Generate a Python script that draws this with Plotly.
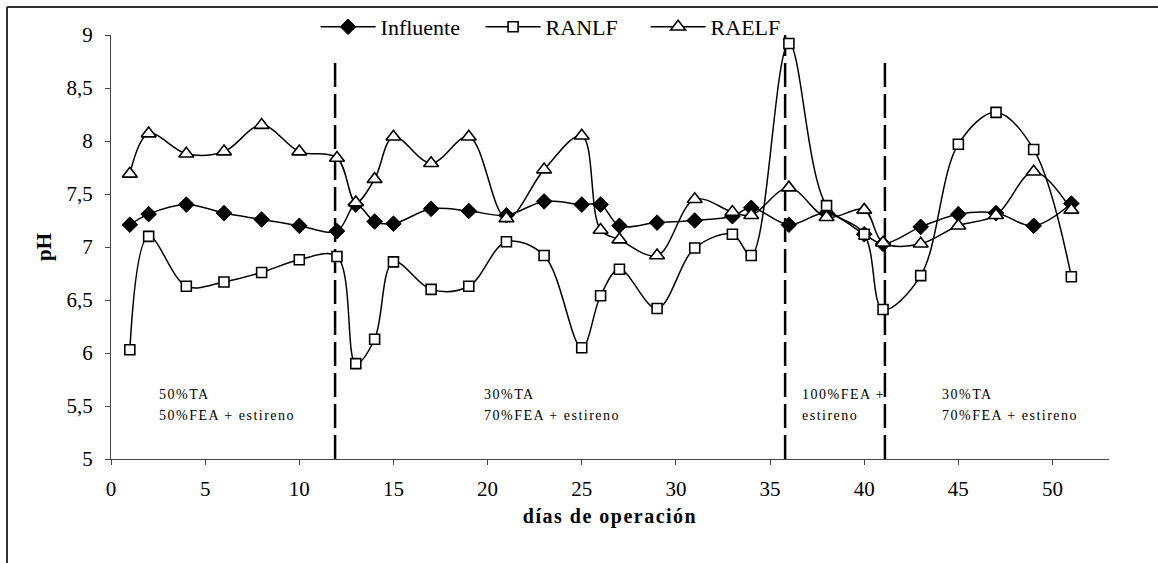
import plotly.graph_objects as go

# Sampling days (shared by the three series)
days = [1, 2, 4, 6, 8, 10, 12, 13, 14, 15, 17, 19, 21, 23, 25, 26, 27, 29,
        31, 33, 34, 36, 38, 40, 41, 43, 45, 47, 49, 51]

ph_influente = [7.21, 7.31, 7.40, 7.32, 7.26, 7.20, 7.15, 7.40, 7.24, 7.22,
                7.36, 7.34, 7.30, 7.43, 7.40, 7.40, 7.20, 7.23, 7.25, 7.29,
                7.37, 7.21, 7.32, 7.12, 7.03, 7.19, 7.31, 7.32, 7.20, 7.41]
ph_ranlf = [6.03, 7.10, 6.63, 6.67, 6.76, 6.88, 6.91, 5.90, 6.13, 6.86,
            6.60, 6.63, 7.05, 6.92, 6.05, 6.54, 6.79, 6.42, 6.99, 7.12,
            6.92, 8.92, 7.39, 7.12, 6.41, 6.73, 7.97, 8.27, 7.92, 6.72]
ph_raelf = [7.69, 8.07, 7.88, 7.90, 8.15, 7.90, 7.84, 7.42, 7.64, 8.04,
            7.79, 8.04, 7.27, 7.73, 8.05, 7.16, 7.07, 6.92, 7.45, 7.33,
            7.30, 7.56, 7.28, 7.35, 7.04, 7.03, 7.20, 7.30, 7.71, 7.35]

# Feed-change boundaries (day) and the height each dashed line reaches
phase_days = [11.9, 35.8, 41.1]
phase_tops = [8.80, 9.02, 8.80]

# Feed composition labels for each period
phase_label_x = [2.46, 2.46, 19.69, 19.69, 36.59, 36.59, 44.02, 44.02]
phase_label_y = [5.61, 5.41, 5.61, 5.41, 5.61, 5.41, 5.61, 5.41]
phase_label_text = ["50%TA", "50%FEA + estireno",
                    "30%TA", "70%FEA + estireno",
                    "100%FEA +", "estireno",
                    "30%TA", "70%FEA + estireno"]

x_ticks = [0, 5, 10, 15, 20, 25, 30, 35, 40, 45, 50]
y_ticks = [5, 5.5, 6, 6.5, 7, 7.5, 8, 8.5, 9]

SERIF = "Liberation Serif, Times New Roman, serif"
W, H = 1158, 563
ML, MR, MT, MB = 111, 49, 35, 104

fig = go.Figure()

line_style = dict(color="black", width=1.5, shape="spline", smoothing=1)

fig.add_trace(go.Scatter(
    x=days, y=ph_influente, name="Influente", mode="lines+markers",
    line=line_style,
    marker=dict(symbol="diamond", size=12, color="black",
                line=dict(color="black", width=1)),
))
fig.add_trace(go.Scatter(
    x=days, y=ph_ranlf, name="RANLF", mode="lines+markers",
    line=line_style,
    marker=dict(symbol="square", size=10, color="white",
                line=dict(color="black", width=1.6)),
))
fig.add_trace(go.Scatter(
    x=days, y=ph_raelf, name="RAELF", mode="lines+markers",
    line=line_style,
    marker=dict(symbol="triangle-up", size=13, color="white",
                line=dict(color="black", width=1.6)),
))

# Dashed separators between feeding periods
for d, top in zip(phase_days, phase_tops):
    fig.add_shape(type="line", xref="x", yref="y", x0=d, x1=d, y0=5, y1=top,
                  line=dict(color="black", width=2.5, dash="24px,7px"),
                  layer="below")

spaced = '<span style="letter-spacing:1.5px">{}</span>'
for tx, ty, txt in zip(phase_label_x, phase_label_y, phase_label_text):
    fig.add_annotation(x=tx, y=ty, xref="x", yref="y", text=spaced.format(txt),
                       showarrow=False, xanchor="left", yanchor="middle",
                       font=dict(family=SERIF, size=14, color="black"))

# Partial outer frame (top and left edges)
pw = W - ML - MR
ph = H - MT - MB
fx = (7 - ML) / pw
fy = 1 + (MT - 7) / ph
fig.add_shape(type="line", xref="paper", yref="paper",
              x0=fx, x1=(W - ML) / pw, y0=fy, y1=fy,
              line=dict(color="#333333", width=2))
fig.add_shape(type="line", xref="paper", yref="paper",
              x0=fx, x1=fx, y0=fy, y1=-MB / ph,
              line=dict(color="#333333", width=2))

fig.update_layout(
    width=W, height=H,
    margin=dict(l=ML, r=MR, t=MT, b=MB, pad=0, autoexpand=False),
    paper_bgcolor="white", plot_bgcolor="white",
    separators=",.",
    font=dict(family=SERIF, color="black"),
    showlegend=True,
    legend=dict(orientation="h", x=0.205, y=1 + (MT - 27) / ph, xanchor="left",
                yanchor="middle", bgcolor="rgba(0,0,0,0)",
                font=dict(family=SERIF, size=22, color="black"),
                itemwidth=55, tracegroupgap=0,
                entrywidth=95, entrywidthmode="pixels"),
    xaxis=dict(range=[0, 53], tickvals=x_ticks, showgrid=False, zeroline=False,
               showline=True, linecolor="#444444", linewidth=1,
               ticks="outside", ticklen=5, tickcolor="#444444",
               tickfont=dict(family=SERIF, size=21, color="black"),
               ticklabelstandoff=6,
               title=dict(text='<b><span style="letter-spacing:1.5px">días de operación</span></b>',
                          font=dict(family=SERIF, size=20, color="black"),
                          standoff=8)),
    yaxis=dict(range=[5, 9], tickvals=y_ticks, showgrid=False, zeroline=False,
               showline=True, linecolor="#444444", linewidth=1,
               ticks="outside", ticklen=5, tickcolor="#444444",
               tickfont=dict(family=SERIF, size=21, color="black"),
               ticklabelstandoff=8,
               title=dict(text="<b>pH</b>",
                          font=dict(family=SERIF, size=21, color="black"),
                          standoff=9)),
)

fig.write_html("out.html")
